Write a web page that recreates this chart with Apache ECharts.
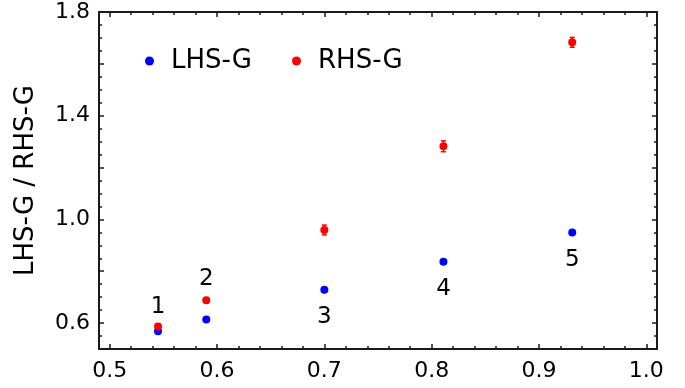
<!DOCTYPE html>
<html>
<head>
<meta charset="utf-8">
<script src="https://cdn.jsdelivr.net/npm/echarts@6/dist/echarts.min.js"></script>
<style>
  html, body { margin: 0; padding: 0; background: #fff; }
  #chart { width: 685px; height: 388px; }
</style>
</head>
<body>
<div id="chart"></div>
<script>
// data
const xValues = [0.545, 0.590, 0.700, 0.811, 0.931];
const lhsValues = [0.568, 0.614, 0.729, 0.837, 0.949];
const lhsErrors = [0.004, 0.004, 0.005, 0.005, 0.005];
const rhsValues = [0.587, 0.688, 0.959, 1.282, 1.683];
const rhsErrors = [0.008, 0.010, 0.019, 0.021, 0.019];
const pointLabels = ['1', '2', '3', '4', '5'];

// tick values
const xMajorTicks = [0.5, 0.6, 0.7, 0.8, 0.9, 1.0];
const xMinorTicks = [];
for (let i = 0; i <= 25; i++) xMinorTicks.push(+(0.5 + i * 0.02).toFixed(2));
const yMajorTicks = [0.6, 0.8, 1.0, 1.2, 1.4, 1.6, 1.8];
const yMinorTicks = [];
for (let i = 0; i <= 26; i++) yMinorTicks.push(+(0.5 + i * 0.05).toFixed(2));
const yTickLabels = [0.6, 1.0, 1.4, 1.8];

const FONT = 'DejaVu Sans';
const AXIS_COLOR = '#1a1a1a';

const chart = echarts.init(document.getElementById('chart'), null, { renderer: 'canvas' });

// one axis per side for the long ticks, one for the short ones
const makeAxis = (position, min, max, ticks, tickLength, withLine, labels, labelMargin) => ({
    type: 'value',
    position,
    min,
    max,
    axisLine: { show: withLine, onZero: false, lineStyle: { color: AXIS_COLOR, width: 2 } },
    axisTick: {
        show: true,
        inside: true,
        length: tickLength,
        customValues: ticks,
        lineStyle: { color: AXIS_COLOR, width: 1.5 },
    },
    axisLabel: labels
        ? {
            show: true,
            customValues: labels,
            formatter: (v) => v.toFixed(1),
            color: '#000',
            fontFamily: FONT,
            fontSize: 22,
            margin: labelMargin,
        }
        : { show: false },
    splitLine: { show: false },
});

const xAxes = [
    makeAxis('bottom', 0.49, 1.01, xMajorTicks, 5, true, xMajorTicks, 11),
    makeAxis('bottom', 0.49, 1.01, xMinorTicks, 3, false, null),
    makeAxis('top', 0.49, 1.01, xMajorTicks, 5, true, null),
    makeAxis('top', 0.49, 1.01, xMinorTicks, 3, false, null),
];

const yMain = makeAxis('left', 0.5, 1.8, yMajorTicks, 5, true, yTickLabels, 9);
yMain.name = 'LHS-G / RHS-G';
yMain.nameLocation = 'middle';
yMain.nameGap = 60;
yMain.nameTextStyle = { color: '#000', fontFamily: FONT, fontSize: 26 };

const yAxes = [
    yMain,
    makeAxis('left', 0.5, 1.8, yMinorTicks, 3, false, null),
    makeAxis('right', 0.5, 1.8, yMajorTicks, 5, true, null),
    makeAxis('right', 0.5, 1.8, yMinorTicks, 3, false, null),
];

const errorBars = (values, errors, color) => ({
    type: 'custom',
    xAxisIndex: 0,
    yAxisIndex: 0,
    z: 1,
    silent: true,
    data: xValues.map((x, i) => [x, values[i], errors[i]]),
    renderItem: (params, api) => {
        const x = api.value(0);
        const y = api.value(1);
        const e = api.value(2);
        const hi = api.coord([x, y + e]);
        const lo = api.coord([x, y - e]);
        const cap = 2.5;
        const style = { stroke: color, lineWidth: 1.5 };
        return {
            type: 'group',
            children: [
                { type: 'line', shape: { x1: hi[0], y1: hi[1], x2: lo[0], y2: lo[1] }, style },
                { type: 'line', shape: { x1: hi[0] - cap, y1: hi[1], x2: hi[0] + cap, y2: hi[1] }, style },
                { type: 'line', shape: { x1: lo[0] - cap, y1: lo[1], x2: lo[0] + cap, y2: lo[1] }, style },
            ],
        };
    },
});

const numberLabel = (text, position, distance) => ({
    show: true,
    formatter: text,
    position,
    distance,
    color: '#000',
    fontFamily: FONT,
    fontSize: 23,
});

// numbers 1, 2 sit above the red dots, 3-5 below the blue dots
const lhsData = xValues.map((x, i) => {
    const item = { value: [x, lhsValues[i]] };
    if (i >= 2) item.label = numberLabel(pointLabels[i], 'bottom', 12);
    return item;
});
const rhsData = xValues.map((x, i) => {
    const item = { value: [x, rhsValues[i]] };
    if (i < 2) item.label = numberLabel(pointLabels[i], 'top', i === 0 ? 4 : 6);
    return item;
});

const option = {
    animation: false,
    backgroundColor: '#fff',
    grid: {
        left: 99,
        right: 28,
        top: 12,
        bottom: 39,
        containLabel: false,
        outerBoundsMode: 'none',
    },
    legend: {
        data: ['LHS-G', 'RHS-G'],
        icon: 'circle',
        itemWidth: 9,
        itemHeight: 9,
        itemGap: 40,
        left: 140,
        top: 43,
        textStyle: { color: '#000', fontFamily: FONT, fontSize: 26, padding: [0, 0, 0, 12] },
    },
    xAxis: xAxes,
    yAxis: yAxes,
    series: [
        errorBars(lhsValues, lhsErrors, '#0000ff'),
        errorBars(rhsValues, rhsErrors, '#ff0000'),
        {
            name: 'LHS-G',
            type: 'scatter',
            xAxisIndex: 0,
            yAxisIndex: 0,
            symbol: 'circle',
            symbolSize: 8,
            itemStyle: { color: '#0000ff', opacity: 1 },
            z: 2,
            data: lhsData,
        },
        {
            name: 'RHS-G',
            type: 'scatter',
            xAxisIndex: 0,
            yAxisIndex: 0,
            symbol: 'circle',
            symbolSize: 8,
            itemStyle: { color: '#ff0000', opacity: 1 },
            z: 3,
            data: rhsData,
        },
    ],
};

chart.setOption(option);
</script>
</body>
</html>
